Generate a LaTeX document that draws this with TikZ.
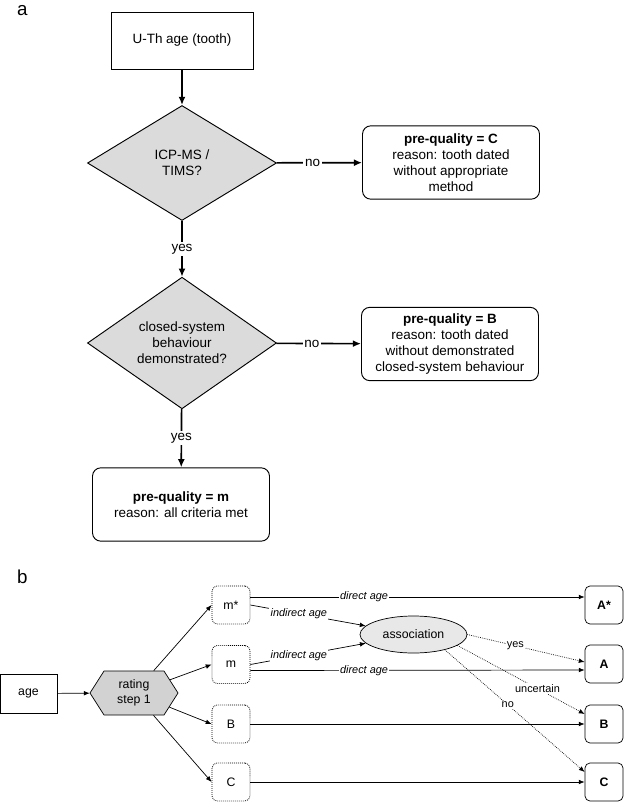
\documentclass[tikz,border=0pt]{standalone}
\usepackage[usenames,dvipsnames]{xcolor}
\usepackage{fontspec}
\setmainfont{Liberation Sans}
\usepackage{tikz}
\usetikzlibrary{calc,positioning,arrows.meta,shapes.geometric,shapes.symbols}
\tikzset{
  panel/.style={
      anchor=base west,
      inner sep=0pt,
      font=\fontsize{16}{19}\selectfont,
  },
  kasten/.style={
      draw,
      line width=0.8pt,
      minimum width=4.26cm,
      minimum height=1.71cm,
      font=\fontsize{11.5}{13.6}\selectfont,
  },
  frage/.style={
      draw,
      diamond,
      fill=gray!28,
      line width=0.8pt,
      minimum width=5.67cm,
      minimum height=3.45cm,
      inner sep=0pt,
      align=center,
      font=\fontsize{11.5}{13.6}\selectfont,
  },
  ergebnis/.style={
      draw,
      rounded corners=0.25cm,
      line width=0.8pt,
      minimum width=5.31cm,
      minimum height=2.2cm,
      inner sep=1pt,
      align=center,
      font=\fontsize{11.5}{13.6}\selectfont,
  },
  pfeil/.style={
      -{Latex[length=7pt,width=6pt]},
      line width=1.4pt
  },
  antwort/.style={
      fill=white,
      inner sep=1.5pt,
      font=\fontsize{11.5}{13.6}\selectfont,
  },
  alter/.style={
      draw,
      line width=0.6pt,
      minimum width=1.71cm,
      minimum height=1.17cm,
      font=\fontsize{10.5}{12.6}\selectfont,
  },
  stufe/.style={
      draw,
      signal,
      signal to=east and west,
      signal pointer angle=115,
      fill=gray!35,
      line width=0.6pt,
      minimum width=2.64cm,
      minimum height=1.32cm,
      inner sep=0pt,
      align=center,
      font=\fontsize{10.5}{12.6}\selectfont,
  },
  vorlaeufig/.style={
      draw,
      densely dotted,
      rounded corners=0.15cm,
      line width=0.7pt,
      minimum width=1.14cm,
      minimum height=1.14cm,
      inner sep=0pt,
      font=\fontsize{10.5}{12.6}\selectfont,
  },
  endklasse/.style={
      draw,
      rounded corners=0.15cm,
      line width=0.6pt,
      minimum width=1.14cm,
      minimum height=1.14cm,
      inner sep=0pt,
      font=\fontsize{10.5}{12.6}\selectfont\bfseries,
  },
  zuordnung/.style={
      draw,
      ellipse,
      fill=gray!18,
      line width=0.6pt,
      minimum width=3.21cm,
      minimum height=1.11cm,
      inner sep=0pt,
      font=\fontsize{10.5}{12.6}\selectfont,
  },
  linie/.style={
      -{Latex[length=5pt,width=4pt]},
      line width=0.6pt
  },
  punktiert/.style={
      -{Latex[length=5pt,width=4pt]},
      densely dotted,
      line width=0.6pt
  },
  etikett/.style={
      fill=white,
      inner sep=1pt,
      font=\fontsize{9.3}{11}\selectfont\itshape,
  },
  urteil/.style={
      fill=white,
      inner sep=1pt,
      font=\fontsize{9.3}{11}\selectfont,
  },
}

\begin{document}
\begin{tikzpicture}[x=0.03cm, y=-0.03cm]
  \useasboundingbox (0,0) rectangle (625,802);

  % a: pre-quality of the tooth ages
  \node[panel] (pa) at (17,15) {a};
  \node[kasten] (uth) at (182,40.5) {U-Th age (tooth)};
  \node[frage] (icp) at (182,163) {ICP-MS /\\TIMS?};
  \node[ergebnis] (qc) at (451,162.5) {\textbf{pre-quality = C}\\reason: tooth dated\\without appropriate\\method};
  \node[frage] (csb) at (182,343) {closed-system\\behaviour\\demonstrated?};
  \node[ergebnis] (qb) at (450,344) {\textbf{pre-quality = B}\\reason: tooth dated\\without demonstrated\\closed-system behaviour};
  \node[ergebnis] (qm) at (181,504.5) {\textbf{pre-quality = m}\\reason: all criteria met};

  \draw[pfeil] (uth) -- (icp);
  \draw[pfeil] (icp) -- node[antwort, pos=0.42] {no} (qc);
  \draw[pfeil] (icp) -- node[antwort] {yes} (csb);
  \draw[pfeil] (csb) -- node[antwort, pos=0.42] {no} (qb);
  \draw[pfeil] (csb) -- node[antwort] {yes} (qm);

  % b: rating step 1
  \node[panel] (pb) at (17,583) {b};
  \node[alter] (age) at (28.5,693.5) {age};
  \node[stufe] (rate) at (134,693) {rating\\step 1};
  \node[vorlaeufig] (vms) at (231,605) {m*};
  \node[vorlaeufig] (vm) at (231,664.5) {m};
  \node[vorlaeufig] (vb) at (231,724) {B};
  \node[vorlaeufig] (vc) at (231,782) {C};
  \node[zuordnung] (assoc) at (413.5,634.5) {association};
  \node[endklasse] (ems) at (604,605) {A*};
  \node[endklasse] (em) at (604,664) {A};
  \node[endklasse] (eb) at (604,724) {B};
  \node[endklasse] (ec) at (604,782) {C};

  \draw[linie] (age) -- (rate);
  \draw[linie] (rate) -- (vms.west);
  \draw[linie] (rate) -- (vm.west);
  \draw[linie] (rate) -- (vb.west);
  \draw[linie] (rate) -- (vc.west);

  \draw[linie] ([yshift=0.24cm]vms.east) -- node[etikett, pos=0.34] {direct age} ([yshift=0.24cm]ems.west);
  \draw[linie] (vms.east) -- node[etikett, pos=0.42] {indirect age} (assoc);
  \draw[linie] (vm.east) -- node[etikett, pos=0.42] {indirect age} (assoc);
  \draw[linie] ([yshift=-0.18cm]vm.east) -- node[etikett, pos=0.34] {direct age} ([yshift=-0.18cm]em.west);
  \draw[linie] (vb) -- (eb);
  \draw[linie] (vc) -- (ec);

  \draw[punktiert] (assoc.east) -- node[urteil, pos=0.41] {yes} ([yshift=0.06cm]em.west);
  \draw[punktiert] (assoc.-14) -- node[urteil, pos=0.63] {uncertain} ([yshift=0.3cm]eb.west);
  \draw[punktiert] (assoc.-26) -- node[urteil, pos=0.45] {no} ([yshift=0.3cm]ec.west);
\end{tikzpicture}
\end{document}
